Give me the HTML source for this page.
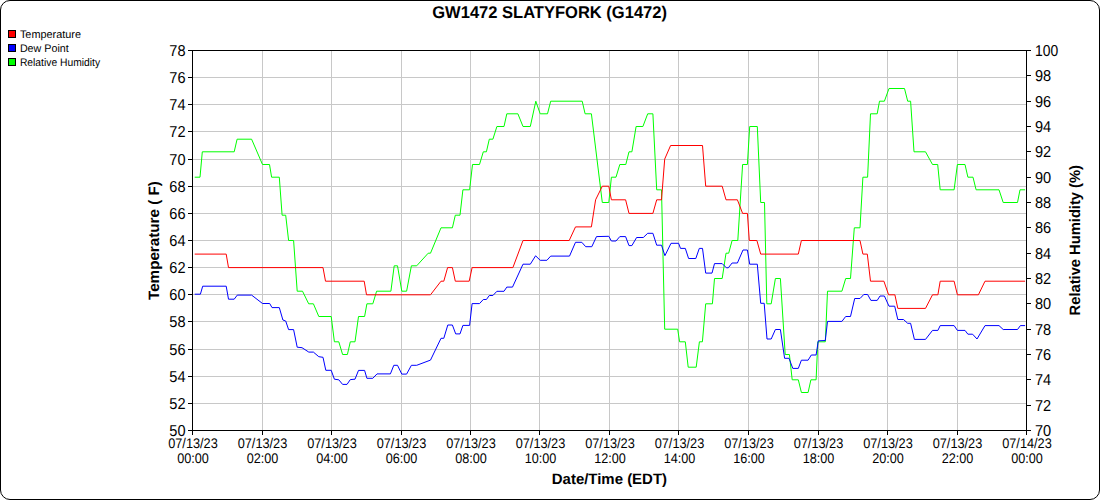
<!DOCTYPE html>
<html><head><meta charset="utf-8"><style>
html,body{margin:0;padding:0;background:#fff;}
.wrap{position:relative;width:1100px;height:500px;overflow:hidden;background:#fff;}
.frame{position:absolute;left:0;top:0;width:1100px;height:500px;box-sizing:border-box;border:1px solid #000;border-radius:10px;}
svg{position:absolute;left:0;top:0;}
text{font-family:"Liberation Sans",sans-serif;fill:#000;text-rendering:geometricPrecision;}
</style></head><body><div class="wrap"><svg width="1100" height="500" viewBox="0 0 1100 500">
<path d="M262.5 50.5V430.5M331.5 50.5V430.5M401.5 50.5V430.5M470.5 50.5V430.5M539.5 50.5V430.5M609.5 50.5V430.5M678.5 50.5V430.5M748.5 50.5V430.5M818.5 50.5V430.5M887.5 50.5V430.5M957.5 50.5V430.5M192.5 77.5H1026.5M192.5 104.5H1026.5M192.5 131.5H1026.5M192.5 159.5H1026.5M192.5 186.5H1026.5M192.5 213.5H1026.5M192.5 240.5H1026.5M192.5 267.5H1026.5M192.5 294.5H1026.5M192.5 321.5H1026.5M192.5 349.5H1026.5M192.5 376.5H1026.5M192.5 403.5H1026.5" stroke="#c8c8c8" stroke-width="1" fill="none" shape-rendering="crispEdges"/>
<polyline points="194.7,177.2 200,177.2 202.3,151.8 234.2,151.8 237.1,139.2 251.6,139.2 262.5,164.5 269.5,164.5 271.6,177.2 279.3,177.2 282.1,215.2 285.7,215.2 288.6,240.5 293.6,240.5 297.2,291.2 302.5,291.2 308.7,303.8 313.4,303.8 318.8,316.5 331.2,316.5 334.4,341.8 338.8,341.8 342.6,354.5 347.4,354.5 350.3,341.8 355,341.8 358.5,316.5 364.6,316.5 366.9,303.8 372.8,303.8 376.6,291.2 390.9,291.2 394.2,265.8 397.5,265.8 401.8,291.2 406.6,291.2 411.4,265.8 416.7,265.8 428.2,253.2 430.5,253.2 441,227.8 452.4,227.8 455.3,215.2 460,215.2 462.9,189.8 469.6,189.8 472.5,164.5 479.5,164.5 483.3,151.8 486.4,151.8 489.3,139.2 492.9,139.2 496.9,126.5 504,126.5 506.8,113.8 517.9,113.8 523,126.5 530.3,126.5 535.8,101.2 540.2,113.8 547.5,113.8 550.7,101.2 582.2,101.2 585.1,113.8 591.4,113.8 602.3,202.5 608.8,202.5 611.4,177.2 616,177.2 619.8,164.5 625.8,164.5 629,151.8 631.9,151.8 636.1,126.5 642.9,126.5 647.7,113.8 652.9,113.8 656.7,189.8 661.5,189.8 664.7,329.2 677.7,329.2 679.6,341.8 685.3,341.8 688.2,367.2 696.2,367.2 699.4,341.8 702.4,341.8 705.7,303.8 712.4,303.8 714.5,278.5 722.2,278.5 726,253.2 728.7,253.2 732.1,240.5 737.8,240.5 742.6,164.5 747.4,164.5 749.7,126.5 757.3,126.5 760.7,202.5 764.5,202.5 766.8,303.8 771.2,303.8 775.4,278.5 780.4,278.5 785.2,354.5 789.4,354.5 792.2,379.8 798.3,379.8 801.4,392.5 808.1,392.5 810.9,379.8 816.1,379.8 817.8,341.8 825.3,341.8 827.5,291.2 841.9,291.2 845.7,278.5 850.5,278.5 854.3,227.8 860,227.8 862.9,177.2 867.6,177.2 870.5,113.8 877.2,113.8 879.5,101.2 884.4,101.2 889,88.5 904.5,88.5 907.7,101.2 910.6,101.2 914,151.8 925.5,151.8 932.5,164.5 937.7,164.5 940.2,189.8 954.1,189.8 957.4,164.5 965,164.5 967.9,177.2 973,177.2 976.1,189.8 999,189.8 1003.2,202.5 1017.5,202.5 1020,189.8 1025.1,189.8" fill="none" stroke="#00ff00" stroke-width="1" stroke-linejoin="round"/>
<polyline points="194.7,294.2 200.4,294.2 202.7,286.2 226.2,286.2 228.5,299.2 234.2,299.2 237.3,295.1 251.6,295.1 262.5,303.5 269.7,303.5 272,307.6 279.3,307.6 282.9,320 285.7,321 288.6,329.6 293.6,329.6 297.2,347.2 302,347.7 308.8,352.1 313.4,352.1 318.8,356.7 323,357.3 325.8,370.3 331.2,370.3 334.4,379.2 338.8,379.8 342.6,384.4 347,384.4 350.3,379.6 355,379.2 358.5,370.4 364.6,370.4 366.9,378.3 372.8,378.3 377,373.9 390.4,373.9 393.8,365.3 397.5,365.3 401.8,374.1 406.6,374.1 411.4,365.3 416.7,365.3 430.5,360.1 441,338.3 443.8,338.3 447.8,325 452.4,325 455.7,333.9 460,333.9 462.9,325.4 469.6,325.4 472.1,303.6 479.5,303.6 483.3,299.5 486.4,299.5 489.3,295.5 492.9,295.5 496.9,291.3 504,291.3 506.8,287.1 512.5,287.1 523,264.2 530.3,264.2 535.6,255.8 540.2,260.3 546.9,260.3 550.7,256.1 569.5,256.1 575.5,242.3 581.8,242.3 585.7,246.7 591.8,246.7 596.5,236.6 608.8,236.3 611.4,241 616,241 619.8,236.6 625.6,236.6 629,245.6 631.9,245.6 636.6,237.5 643.3,237.5 647.7,233.3 652.9,233.3 656.7,245.2 661.5,245.2 664.9,255.7 671,243.3 678.6,243.3 680.5,248.4 685.3,248.4 688.6,258.5 695.8,258.5 699.3,248.4 702.5,248.4 705.7,273.1 712,273.1 714.5,263.6 722.2,263.6 726.4,267.8 728.3,267.8 732.1,263 737.4,263 743,250 747.4,250 749.7,264.2 757.3,264.2 760.7,303.3 764.2,303.3 767,339 771.2,339 775.4,329.5 780.4,329.5 784.6,358.3 789,358.3 792.8,368.4 798.3,368.4 801.4,360.2 808.1,360.2 811.3,355 816.1,355 818.3,340.8 825.3,340.5 827.5,321.4 841.9,321.4 845.7,316.5 850.5,316.5 854.7,298.5 860,298.5 863.8,294.5 867.6,294.5 870.9,300.4 877.2,300.4 880,296 884.4,296 889,306.2 894.7,306.2 897.8,319.5 903.5,319.5 907.7,323.3 910.6,323.3 914.4,339.4 925.5,339.4 932.5,330.4 937.9,330.4 940.2,325.6 954.1,325.6 957.4,330.4 965,330.4 967.9,334.2 972.6,334.2 977,339 985,325.6 999,325.6 1003.2,329.5 1017.5,329.5 1020.4,325.6 1025.1,325.6" fill="none" stroke="#0000ff" stroke-width="1" stroke-linejoin="round"/>
<polyline points="194.7,254.1 226.2,254.1 228.5,267.6 323,267.6 325.5,281.2 364.2,281.2 366.5,294.8 430.5,294.8 441,281.2 443.8,281.2 447.6,267.6 452.4,267.6 455.3,281.2 469.2,281.2 472.1,267.6 512.9,267.6 523,240.5 569.2,240.5 575.5,226.9 591.4,226.9 595.6,199.8 602.3,186.2 608.8,186.2 611.4,199.8 625.6,199.8 629,213.4 652.9,213.4 656.7,199.8 661.5,199.8 664.7,159.1 670.6,145.5 702.5,145.5 705.7,186.2 722.2,186.2 726,199.8 737.4,199.8 742.6,213.4 747.4,213.4 749.3,240.5 756.9,240.5 760.7,254.1 798.3,254.1 801.4,240.5 860,240.5 862.9,254.1 867.3,254.1 870.5,281.2 883.9,281.2 888.6,294.8 894.9,294.8 897.8,308.4 925.5,308.4 932.5,294.8 937.9,294.8 940.2,281.2 954.1,281.2 957.4,294.8 978.4,294.8 985,281.2 1025.1,281.2" fill="none" stroke="#ff0000" stroke-width="1" stroke-linejoin="round"/>
<path d="M187.5 50.5H1030.5M187.5 430.5H1030.5M192.5 50.5V434.5M1026.5 50.5V430.5M187.5 50.5H192.5M187.5 77.5H192.5M187.5 104.5H192.5M187.5 131.5H192.5M187.5 159.5H192.5M187.5 186.5H192.5M187.5 213.5H192.5M187.5 240.5H192.5M187.5 267.5H192.5M187.5 294.5H192.5M187.5 321.5H192.5M187.5 349.5H192.5M187.5 376.5H192.5M187.5 403.5H192.5M187.5 430.5H192.5M1026.5 50.5H1030.5M1026.5 75.5H1030.5M1026.5 101.5H1030.5M1026.5 126.5H1030.5M1026.5 151.5H1030.5M1026.5 177.5H1030.5M1026.5 202.5H1030.5M1026.5 227.5H1030.5M1026.5 253.5H1030.5M1026.5 278.5H1030.5M1026.5 303.5H1030.5M1026.5 329.5H1030.5M1026.5 354.5H1030.5M1026.5 379.5H1030.5M1026.5 405.5H1030.5M1026.5 430.5H1030.5M192.5 430.5V434.5M262.5 430.5V434.5M331.5 430.5V434.5M401.5 430.5V434.5M470.5 430.5V434.5M539.5 430.5V434.5M609.5 430.5V434.5M678.5 430.5V434.5M748.5 430.5V434.5M818.5 430.5V434.5M887.5 430.5V434.5M957.5 430.5V434.5M1026.5 430.5V434.5" stroke="#000" stroke-width="1" fill="none" shape-rendering="crispEdges"/>
<text x="185.5" y="56.2" font-size="15.8" text-anchor="end" textLength="16.2" lengthAdjust="spacingAndGlyphs">78</text>
<text x="185.5" y="83.2" font-size="15.8" text-anchor="end" textLength="16.2" lengthAdjust="spacingAndGlyphs">76</text>
<text x="185.5" y="110.2" font-size="15.8" text-anchor="end" textLength="16.2" lengthAdjust="spacingAndGlyphs">74</text>
<text x="185.5" y="137.2" font-size="15.8" text-anchor="end" textLength="16.2" lengthAdjust="spacingAndGlyphs">72</text>
<text x="185.5" y="165.2" font-size="15.8" text-anchor="end" textLength="16.2" lengthAdjust="spacingAndGlyphs">70</text>
<text x="185.5" y="192.2" font-size="15.8" text-anchor="end" textLength="16.2" lengthAdjust="spacingAndGlyphs">68</text>
<text x="185.5" y="219.2" font-size="15.8" text-anchor="end" textLength="16.2" lengthAdjust="spacingAndGlyphs">66</text>
<text x="185.5" y="246.2" font-size="15.8" text-anchor="end" textLength="16.2" lengthAdjust="spacingAndGlyphs">64</text>
<text x="185.5" y="273.2" font-size="15.8" text-anchor="end" textLength="16.2" lengthAdjust="spacingAndGlyphs">62</text>
<text x="185.5" y="300.2" font-size="15.8" text-anchor="end" textLength="16.2" lengthAdjust="spacingAndGlyphs">60</text>
<text x="185.5" y="327.2" font-size="15.8" text-anchor="end" textLength="16.2" lengthAdjust="spacingAndGlyphs">58</text>
<text x="185.5" y="355.2" font-size="15.8" text-anchor="end" textLength="16.2" lengthAdjust="spacingAndGlyphs">56</text>
<text x="185.5" y="382.2" font-size="15.8" text-anchor="end" textLength="16.2" lengthAdjust="spacingAndGlyphs">54</text>
<text x="185.5" y="409.2" font-size="15.8" text-anchor="end" textLength="16.2" lengthAdjust="spacingAndGlyphs">52</text>
<text x="185.5" y="436.2" font-size="15.8" text-anchor="end" textLength="16.2" lengthAdjust="spacingAndGlyphs">50</text>
<text x="1035" y="56.2" font-size="15.8" textLength="23.2" lengthAdjust="spacingAndGlyphs">100</text>
<text x="1035" y="81.2" font-size="15.8" textLength="16.2" lengthAdjust="spacingAndGlyphs">98</text>
<text x="1035" y="107.2" font-size="15.8" textLength="16.2" lengthAdjust="spacingAndGlyphs">96</text>
<text x="1035" y="132.2" font-size="15.8" textLength="16.2" lengthAdjust="spacingAndGlyphs">94</text>
<text x="1035" y="157.2" font-size="15.8" textLength="16.2" lengthAdjust="spacingAndGlyphs">92</text>
<text x="1035" y="183.2" font-size="15.8" textLength="16.2" lengthAdjust="spacingAndGlyphs">90</text>
<text x="1035" y="208.2" font-size="15.8" textLength="16.2" lengthAdjust="spacingAndGlyphs">88</text>
<text x="1035" y="233.2" font-size="15.8" textLength="16.2" lengthAdjust="spacingAndGlyphs">86</text>
<text x="1035" y="259.2" font-size="15.8" textLength="16.2" lengthAdjust="spacingAndGlyphs">84</text>
<text x="1035" y="284.2" font-size="15.8" textLength="16.2" lengthAdjust="spacingAndGlyphs">82</text>
<text x="1035" y="309.2" font-size="15.8" textLength="16.2" lengthAdjust="spacingAndGlyphs">80</text>
<text x="1035" y="335.2" font-size="15.8" textLength="16.2" lengthAdjust="spacingAndGlyphs">78</text>
<text x="1035" y="360.2" font-size="15.8" textLength="16.2" lengthAdjust="spacingAndGlyphs">76</text>
<text x="1035" y="385.2" font-size="15.8" textLength="16.2" lengthAdjust="spacingAndGlyphs">74</text>
<text x="1035" y="411.2" font-size="15.8" textLength="16.2" lengthAdjust="spacingAndGlyphs">72</text>
<text x="1035" y="436.2" font-size="15.8" textLength="16.2" lengthAdjust="spacingAndGlyphs">70</text>
<text x="193" y="447.8" font-size="14" text-anchor="middle" textLength="49.6" lengthAdjust="spacingAndGlyphs">07/13/23</text>
<text x="193" y="462.8" font-size="14" text-anchor="middle" textLength="31.7" lengthAdjust="spacingAndGlyphs">00:00</text>
<text x="262.5" y="447.8" font-size="14" text-anchor="middle" textLength="49.6" lengthAdjust="spacingAndGlyphs">07/13/23</text>
<text x="262.5" y="462.8" font-size="14" text-anchor="middle" textLength="31.7" lengthAdjust="spacingAndGlyphs">02:00</text>
<text x="332" y="447.8" font-size="14" text-anchor="middle" textLength="49.6" lengthAdjust="spacingAndGlyphs">07/13/23</text>
<text x="332" y="462.8" font-size="14" text-anchor="middle" textLength="31.7" lengthAdjust="spacingAndGlyphs">04:00</text>
<text x="401.5" y="447.8" font-size="14" text-anchor="middle" textLength="49.6" lengthAdjust="spacingAndGlyphs">07/13/23</text>
<text x="401.5" y="462.8" font-size="14" text-anchor="middle" textLength="31.7" lengthAdjust="spacingAndGlyphs">06:00</text>
<text x="471" y="447.8" font-size="14" text-anchor="middle" textLength="49.6" lengthAdjust="spacingAndGlyphs">07/13/23</text>
<text x="471" y="462.8" font-size="14" text-anchor="middle" textLength="31.7" lengthAdjust="spacingAndGlyphs">08:00</text>
<text x="540.5" y="447.8" font-size="14" text-anchor="middle" textLength="49.6" lengthAdjust="spacingAndGlyphs">07/13/23</text>
<text x="540.5" y="462.8" font-size="14" text-anchor="middle" textLength="31.7" lengthAdjust="spacingAndGlyphs">10:00</text>
<text x="610" y="447.8" font-size="14" text-anchor="middle" textLength="49.6" lengthAdjust="spacingAndGlyphs">07/13/23</text>
<text x="610" y="462.8" font-size="14" text-anchor="middle" textLength="31.7" lengthAdjust="spacingAndGlyphs">12:00</text>
<text x="679.5" y="447.8" font-size="14" text-anchor="middle" textLength="49.6" lengthAdjust="spacingAndGlyphs">07/13/23</text>
<text x="679.5" y="462.8" font-size="14" text-anchor="middle" textLength="31.7" lengthAdjust="spacingAndGlyphs">14:00</text>
<text x="749" y="447.8" font-size="14" text-anchor="middle" textLength="49.6" lengthAdjust="spacingAndGlyphs">07/13/23</text>
<text x="749" y="462.8" font-size="14" text-anchor="middle" textLength="31.7" lengthAdjust="spacingAndGlyphs">16:00</text>
<text x="818.5" y="447.8" font-size="14" text-anchor="middle" textLength="49.6" lengthAdjust="spacingAndGlyphs">07/13/23</text>
<text x="818.5" y="462.8" font-size="14" text-anchor="middle" textLength="31.7" lengthAdjust="spacingAndGlyphs">18:00</text>
<text x="888" y="447.8" font-size="14" text-anchor="middle" textLength="49.6" lengthAdjust="spacingAndGlyphs">07/13/23</text>
<text x="888" y="462.8" font-size="14" text-anchor="middle" textLength="31.7" lengthAdjust="spacingAndGlyphs">20:00</text>
<text x="957.5" y="447.8" font-size="14" text-anchor="middle" textLength="49.6" lengthAdjust="spacingAndGlyphs">07/13/23</text>
<text x="957.5" y="462.8" font-size="14" text-anchor="middle" textLength="31.7" lengthAdjust="spacingAndGlyphs">22:00</text>
<text x="1027" y="447.8" font-size="14" text-anchor="middle" textLength="49.6" lengthAdjust="spacingAndGlyphs">07/14/23</text>
<text x="1027" y="462.8" font-size="14" text-anchor="middle" textLength="31.7" lengthAdjust="spacingAndGlyphs">00:00</text>
<text x="549.6" y="18" font-size="17" font-weight="bold" text-anchor="middle" textLength="234.7" lengthAdjust="spacingAndGlyphs">GW1472 SLATYFORK (G1472)</text>
<text x="609.4" y="483.8" font-size="15" font-weight="bold" text-anchor="middle" textLength="115.2" lengthAdjust="spacingAndGlyphs">Date/Time (EDT)</text>
<text transform="translate(159,240.6) rotate(-90)" font-size="15" font-weight="bold" text-anchor="middle" textLength="118.8" lengthAdjust="spacingAndGlyphs">Temperature ( F)</text>
<text transform="translate(1079.8,240.2) rotate(-90)" font-size="15" font-weight="bold" text-anchor="middle" textLength="150.4" lengthAdjust="spacingAndGlyphs">Relative Humidity (%)</text>
<rect x="8.5" y="30.5" width="7" height="7" fill="#ff0000" stroke="#000" stroke-width="1"/>
<text x="19.9" y="37.8" font-size="11" textLength="61.1" lengthAdjust="spacingAndGlyphs">Temperature</text>
<rect x="8.5" y="44.5" width="7" height="7" fill="#0000ff" stroke="#000" stroke-width="1"/>
<text x="19.9" y="51.8" font-size="11" textLength="48.8" lengthAdjust="spacingAndGlyphs">Dew Point</text>
<rect x="8.5" y="58.5" width="7" height="7" fill="#00ff00" stroke="#000" stroke-width="1"/>
<text x="19.9" y="65.8" font-size="11" textLength="80.2" lengthAdjust="spacingAndGlyphs">Relative Humidity</text>
</svg><div class="frame"></div></div></body></html>
